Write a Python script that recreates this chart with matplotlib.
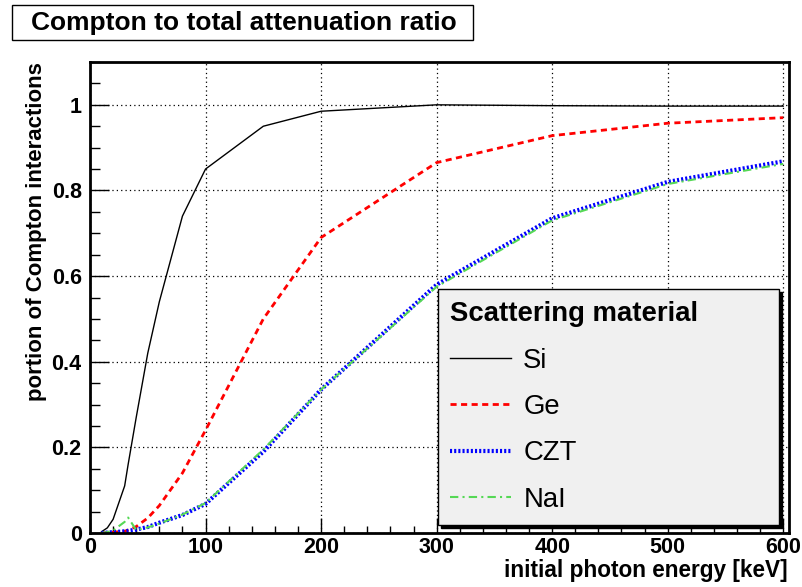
import matplotlib
matplotlib.use("Agg")
import matplotlib.pyplot as plt
from matplotlib.patches import Rectangle
from matplotlib.ticker import MultipleLocator

plt.rcParams['font.family'] = ['Liberation Sans', 'DejaVu Sans']

title = "Compton to total attenuation ratio"
xlabel = "initial photon energy [keV]"
ylabel = "portion of Compton interactions"

energy = [10, 15, 20, 30, 33, 40, 50, 60, 80, 100, 150, 200, 300, 400, 500, 600]
si  = [0.003, 0.012, 0.032, 0.11, 0.16, 0.27, 0.42, 0.54, 0.74, 0.85, 0.95, 0.985, 1.0, 0.998, 0.997, 0.997]
ge  = [0.0, 0.001, 0.002, 0.004, 0.007, 0.015, 0.035, 0.064, 0.14, 0.24, 0.50, 0.69, 0.865, 0.928, 0.957, 0.97]
czt = [0.0, 0.001, 0.002, 0.004, 0.005, 0.008, 0.014, 0.024, 0.042, 0.068, 0.19, 0.335, 0.58, 0.735, 0.82, 0.868]
nai = [0.0, 0.002, 0.006, 0.026, 0.036, 0.007, 0.013, 0.022, 0.043, 0.07, 0.195, 0.335, 0.575, 0.73, 0.815, 0.862]

fig = plt.figure(figsize=(8.02, 5.87), dpi=100)
ax = fig.add_axes([90 / 802, 1 - 533 / 587, 699 / 802, 471 / 587])

ax.plot(energy, si, color='black', lw=1.0, label='Si')
ax.plot(energy, ge, color='red', lw=2.0, ls=(0, (2.2, 1.6)), label='Ge')
ax.plot(energy, czt, color='blue', lw=3.0, ls=(0, (0.5, 0.5)), label='CZT')
ax.plot(energy, nai, color='#55d855', lw=1.5, ls=(0, (4, 2, 1, 2)), label='NaI')

ax.set_xlim(0, 605)
ax.set_ylim(0, 1.1)
ax.xaxis.set_major_locator(MultipleLocator(100))
ax.xaxis.set_minor_locator(MultipleLocator(20))
ax.yaxis.set_minor_locator(MultipleLocator(0.05))
ax.set_yticks([0, 0.2, 0.4, 0.6, 0.8, 1.0])
ax.set_yticklabels(['0', '0.2', '0.4', '0.6', '0.8', '1'])
ax.tick_params(which='both', direction='in', labelsize=15.5, width=1.0)
ax.tick_params(axis='x', which='major', length=11, pad=3)
ax.tick_params(axis='x', which='minor', length=5)
ax.tick_params(axis='y', which='major', length=14, pad=6)
ax.tick_params(axis='y', which='minor', length=7)
for lab in ax.get_xticklabels() + ax.get_yticklabels():
    lab.set_fontweight('bold')
for s in ax.spines.values():
    s.set_linewidth(2)
ax.grid(True, which='major', color='black', ls=(0, (1, 2.5)), lw=0.9)

fig.text(788 / 802, 1 - 571 / 587, xlabel, fontsize=16.3, fontweight='bold',
         ha='right', va='center')
fig.text(37 / 802, 1 - 62 / 587, ylabel, fontsize=16, fontweight='bold',
         rotation=90, ha='center', va='top')

leg = ax.legend(loc='upper left',
                bbox_to_anchor=(438 / 802, 1 - 525 / 587, 341 / 802, 236 / 587),
                bbox_transform=fig.transFigure, mode='expand',
                title='Scattering material',
                fontsize=19.8, title_fontproperties={'weight': 'bold', 'size': 19.8},
                alignment='left', frameon=True, fancybox=False,
                shadow={'color': 'black', 'alpha': 1},
                handlelength=2.2, handletextpad=0.45, labelspacing=0.74,
                borderpad=0.45, borderaxespad=0, framealpha=1)
leg.get_frame().set_facecolor('#f0f0f0')
leg.get_frame().set_edgecolor('black')
leg.get_frame().set_linewidth(1.0)

fig.patches.append(Rectangle((12 / 802, 1 - 40 / 587), 461 / 802, 35 / 587,
                             transform=fig.transFigure, facecolor='white',
                             edgecolor='black', lw=1.0))
fig.text(244 / 802, 1 - 23 / 587, title, fontsize=19, fontweight='bold',
         ha='center', va='center')

fig.savefig("out.png", dpi=100)
